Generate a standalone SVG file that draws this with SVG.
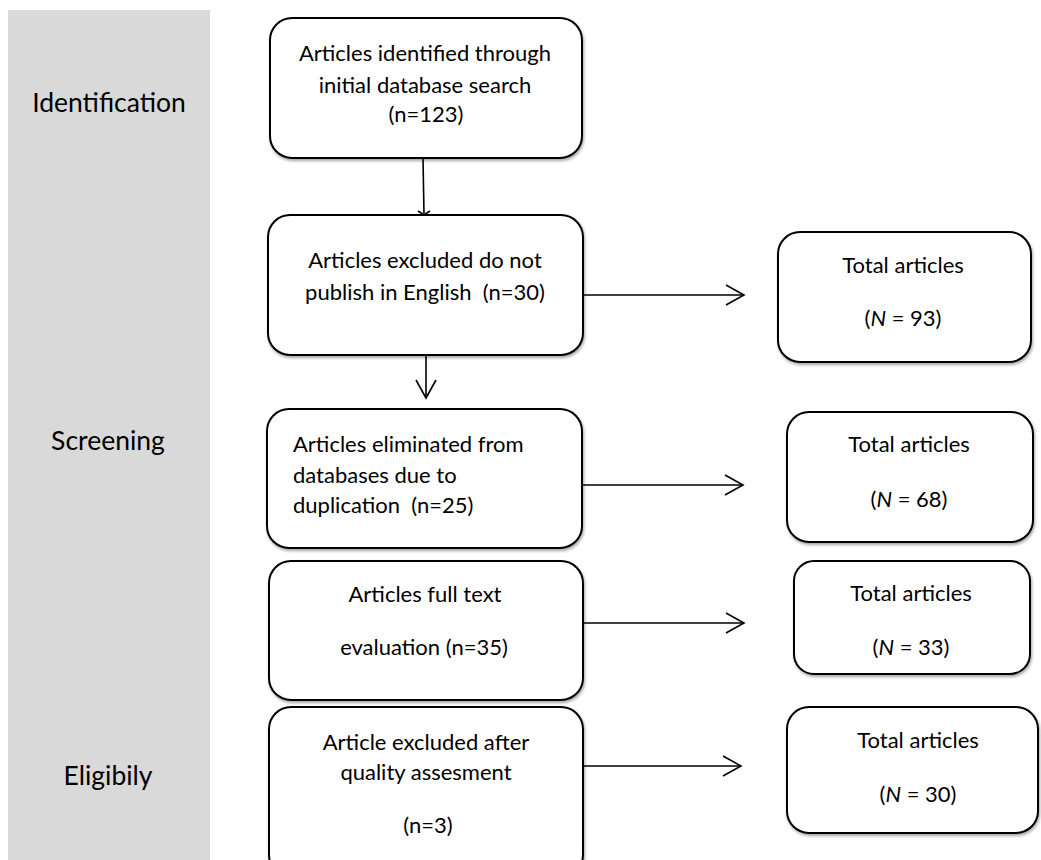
<svg xmlns="http://www.w3.org/2000/svg" width="1041" height="860" viewBox="0 0 1041 860">
<defs>
<filter id="sh" x="-10%" y="-10%" width="120%" height="130%">
<feDropShadow dx="1" dy="2" stdDeviation="1.5" flood-color="#000" flood-opacity="0.35"/>
</filter>
<marker id="ah" markerWidth="22" markerHeight="24" refX="20" refY="12" orient="auto" markerUnits="userSpaceOnUse">
<path d="M2,2 L20,12 L2,22" fill="none" stroke="#000" stroke-width="1.6"/>
</marker>
</defs>
<style>
.box{fill:#fff;stroke:#000;stroke-width:2;filter:url(#sh)}
.t{font-family:Lato,"Open Sans","Liberation Sans",sans-serif;font-size:22px;fill:#000}
.c{text-anchor:middle}
.lab{font-family:Lato,"Open Sans","Liberation Sans",sans-serif;font-size:26.5px;fill:#000;text-anchor:middle}
.ln{stroke:#000;stroke-width:1.6;fill:none}
</style>
<rect width="1041" height="860" fill="#fff"/>
<g id="panel">
<rect x="8" y="10" width="202" height="850" fill="#d9d9d9"/>
<text class="lab" x="109" y="112">Identification</text>
<text class="lab" x="108" y="450">Screening</text>
<text class="lab" x="108" y="785">Eligibily</text>
</g>
<g id="connectors">
<line class="ln" x1="423" y1="158" x2="424" y2="215"/>
<path class="ln" d="M418,211 L424,215 L430,211" stroke-width="1"/>
<line class="ln" x1="426" y1="355" x2="426" y2="398" marker-end="url(#ah)"/>
<line class="ln" x1="583" y1="295" x2="744" y2="295" marker-end="url(#ah)"/>
<line class="ln" x1="582" y1="485" x2="743" y2="485" marker-end="url(#ah)"/>
<line class="ln" x1="584" y1="623" x2="744" y2="623" marker-end="url(#ah)"/>
<line class="ln" x1="584" y1="766" x2="741" y2="766" marker-end="url(#ah)"/>
</g>
<g id="n1">
<rect class="box" x="270" y="18" width="312" height="140" rx="22"/>
<text class="t c" x="425" y="61">Articles identified through</text>
<text class="t c" x="425" y="93">initial database search</text>
<text class="t c" x="426" y="122">(n=123)</text>
</g>
<g id="n2">
<rect class="box" x="268" y="215" width="315" height="140" rx="22"/>
<text class="t c" x="425" y="268">Articles excluded do not</text>
<text class="t c" x="425" y="300" xml:space="preserve">publish in English  (n=30)</text>
</g>
<g id="n3">
<rect class="box" x="267" y="409" width="315" height="139" rx="22"/>
<text class="t" x="293" y="452">Articles eliminated from</text>
<text class="t" x="293" y="483">databases due to</text>
<text class="t" x="293" y="513" xml:space="preserve">duplication  (n=25)</text>
</g>
<g id="n4">
<rect class="box" x="269" y="561" width="314" height="139" rx="22"/>
<text class="t c" x="425" y="602">Articles full text</text>
<text class="t c" x="424" y="655">evaluation (n=35)</text>
</g>
<g id="n5">
<rect class="box" x="269" y="707" width="314" height="170" rx="22"/>
<text class="t c" x="426" y="750">Article excluded after</text>
<text class="t c" x="426" y="780">quality assesment</text>
<text class="t c" x="428" y="833">(n=3)</text>
</g>
<g id="r1">
<rect class="box" x="778" y="232" width="253" height="130" rx="22"/>
<text class="t c" x="903" y="273">Total articles</text>
<text class="t c" x="903" y="326">(<tspan font-style="italic">N</tspan> = 93)</text>
</g>
<g id="r2">
<rect class="box" x="787" y="412" width="246" height="130" rx="22"/>
<text class="t c" x="909" y="452">Total articles</text>
<text class="t c" x="909" y="507">(<tspan font-style="italic">N</tspan> = 68)</text>
</g>
<g id="r3">
<rect class="box" x="794" y="561" width="236" height="113" rx="20"/>
<text class="t c" x="911" y="601">Total articles</text>
<text class="t c" x="911" y="655">(<tspan font-style="italic">N</tspan> = 33)</text>
</g>
<g id="r4">
<rect class="box" x="787" y="707" width="251" height="126" rx="22"/>
<text class="t c" x="918" y="748">Total articles</text>
<text class="t c" x="918" y="802">(<tspan font-style="italic">N</tspan> = 30)</text>
</g>
</svg>
